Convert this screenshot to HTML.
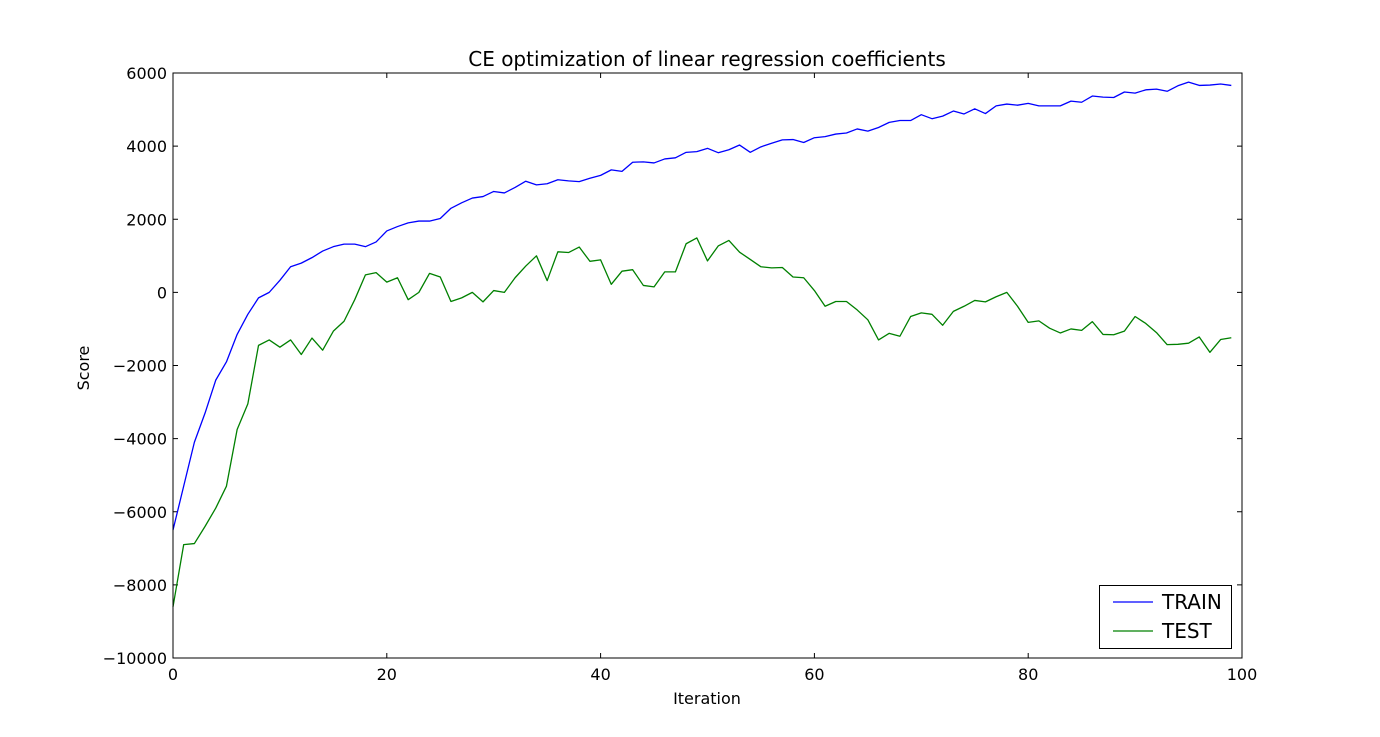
<!DOCTYPE html>
<html><head><meta charset="utf-8"><style>
html,body{margin:0;padding:0;background:#fff;}
svg text{font-family:"DejaVu Sans","Liberation Sans",sans-serif;fill:#000;}
</style></head><body>
<svg id="chart" width="1380" height="732" xmlns="http://www.w3.org/2000/svg">
<rect width="1380" height="732" fill="#fff"/>
<text x="707" y="66" font-size="20" text-anchor="middle">CE optimization of linear regression coefficients</text>
<g id="grid"></g>
<g id="series"></g>
<rect x="173" y="73" width="1069" height="585" fill="none" stroke="#000" stroke-width="1"/>
<text x="707" y="704" font-size="16" text-anchor="middle">Iteration</text>
<text transform="translate(89,368) rotate(-90)" font-size="16" text-anchor="middle">Score</text>
<g>
<rect x="1099.5" y="585.5" width="132" height="63" fill="#fff" stroke="#000"/>
<line x1="1113" y1="602" x2="1153" y2="602" stroke="#0000ff" stroke-width="1.2"/>
<text x="1162" y="609" font-size="20">TRAIN</text>
<line x1="1113" y1="631" x2="1153" y2="631" stroke="#008000" stroke-width="1.2"/>
<text x="1162" y="638" font-size="20">TEST</text>
</g>
</svg>
<script>
const train=[-6500,-5300,-4100,-3300,-2400,-1900,-1150,-600,-150,0,330,700,800,950,1130,1250,1320,1320,1250,1380,1680,1800,1900,1950,1950,2020,2300,2450,2580,2620,2760,2720,2870,3040,2940,2970,3080,3050,3030,3120,3200,3350,3310,3560,3570,3540,3650,3680,3830,3850,3940,3820,3900,4030,3830,3980,4080,4170,4180,4100,4230,4260,4330,4360,4470,4410,4510,4650,4700,4700,4860,4750,4820,4960,4880,5020,4890,5100,5150,5120,5170,5100,5100,5100,5230,5200,5370,5340,5330,5480,5450,5540,5560,5500,5650,5750,5660,5670,5700,5660];
const test=[-8600,-6900,-6870,-6400,-5900,-5300,-3750,-3050,-1450,-1300,-1500,-1300,-1700,-1250,-1580,-1060,-790,-200,480,540,280,400,-200,0,520,420,-250,-150,0,-260,50,0,400,720,1000,320,1110,1090,1240,850,890,220,580,620,190,150,560,560,1330,1490,860,1270,1420,1100,900,700,670,680,420,400,50,-380,-250,-250,-480,-750,-1300,-1120,-1200,-660,-560,-600,-900,-520,-380,-220,-260,-120,0,-380,-820,-780,-980,-1110,-1000,-1040,-800,-1150,-1160,-1060,-660,-850,-1100,-1430,-1420,-1390,-1220,-1640,-1290,-1240];
const xTicks=[0,20,40,60,80,100];
const yTicks=[-10000,-8000,-6000,-4000,-2000,0,2000,4000,6000];
const X0=173,X1=1242,Y0=658,Y1=73;
function sx(v){return X0+(v-0)/(100-0)*(X1-X0);}
function sy(v){return Y0-(v+10000)/16000*(Y0-Y1);}
const NS="http://www.w3.org/2000/svg";
const grid=document.getElementById('grid'),ser=document.getElementById('series');
function mk(tag,attrs,parent){const e=document.createElementNS(NS,tag);for(const k in attrs)e.setAttribute(k,attrs[k]);parent.appendChild(e);return e;}
xTicks.forEach(t=>{const x=sx(t);
mk('line',{x1:x,y1:Y0,x2:x,y2:Y0-5,stroke:'#000'},grid);
mk('line',{x1:x,y1:Y1,x2:x,y2:Y1+5,stroke:'#000'},grid);
const tx=mk('text',{x:x,y:Y0+22,'font-size':16,'text-anchor':'middle'},grid);


tx.textContent=t;});
yTicks.forEach(t=>{const y=sy(t);
mk('line',{x1:X0,y1:y,x2:X0+5,y2:y,stroke:'#000'},grid);
mk('line',{x1:X1,y1:y,x2:X1-5,y2:y,stroke:'#000'},grid);
const tx=mk('text',{x:X0-6,y:y+6,'font-size':16,'text-anchor':'end'},grid);


tx.textContent=(t<0?'\u2212'+(-t):t);});
function line(arr,color,name){
const p=mk('polyline',{points:arr.map((v,i)=>sx(i)+','+sy(v)).join(' '),fill:'none',stroke:color,'stroke-width':1.3,'stroke-linejoin':'round'},ser);

}
line(train,'#0000ff','train-line');
line(test,'#008000','test-line');
</script>
</body></html>
